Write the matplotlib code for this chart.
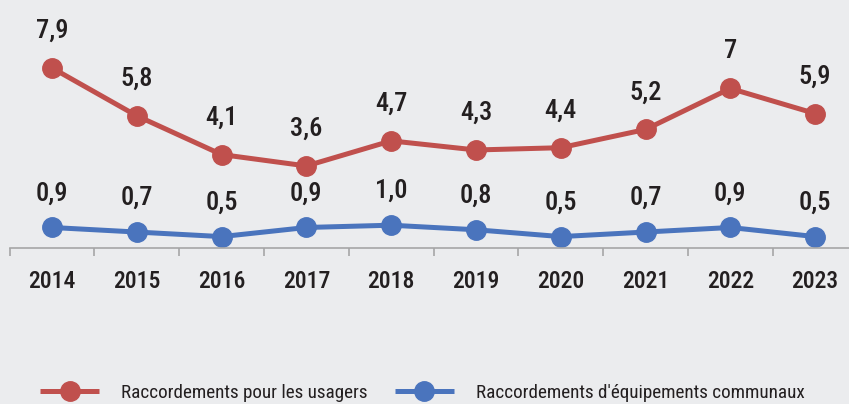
import matplotlib
matplotlib.use('Agg')
import matplotlib.pyplot as plt
from matplotlib import font_manager

years = ['2014', '2015', '2016', '2017', '2018', '2019', '2020', '2021', '2022', '2023']
usagers = [7.9, 5.8, 4.1, 3.6, 4.7, 4.3, 4.4, 5.2, 7.0, 5.9]
usagers_labels = ['7,9', '5,8', '4,1', '3,6', '4,7', '4,3', '4,4', '5,2', '7', '5,9']
communaux = [0.9, 0.7, 0.5, 0.9, 1.0, 0.8, 0.5, 0.7, 0.9, 0.5]
communaux_labels = ['0,9', '0,7', '0,5', '0,9', '1,0', '0,8', '0,5', '0,7', '0,9', '0,5']

names = {f.name for f in font_manager.fontManager.ttflist}
narrow = next((n for n in ['Liberation Sans Narrow', 'Roboto Condensed', 'Roboto', 'Lato']
               if n in names), 'DejaVu Sans')
plt.rcParams['font.family'] = [narrow, 'DejaVu Sans']

bg = '#ebecee'
red = '#c0504d'
blue = '#4a74bd'
text_col = '#231f20'

fig = plt.figure(figsize=(8.49, 4.04), dpi=100, facecolor=bg)
ax = fig.add_axes([0, 1 - 248 / 404, 1, 248 / 404])
ax.set_facecolor(bg)

x = list(range(len(years)))
l1, = ax.plot(x, usagers, color=red, lw=3.6, marker='o', ms=14, label='Raccordements pour les usagers',
              solid_capstyle='butt', clip_on=False)
l2, = ax.plot(x, communaux, color=blue, lw=3.6, marker='o', ms=14, label="Raccordements d'équipements communaux",
              solid_capstyle='butt', clip_on=False)

for xi, v, s in zip(x, usagers, usagers_labels):
    ax.annotate(s, (xi, v), xytext=(0, 18), textcoords='offset points', ha='center', va='bottom',
                fontsize=19, fontweight='medium', color=text_col)
for xi, v, s in zip(x, communaux, communaux_labels):
    ax.annotate(s, (xi, v), xytext=(0, 16), textcoords='offset points', ha='center', va='bottom',
                fontsize=19, fontweight='medium', color=text_col)

ax.set_xlim(-0.613, 9.40)
ax.set_ylim(0, 10.88)
ax.set_yticks([])
for side in ['top', 'right', 'left']:
    ax.spines[side].set_visible(False)
ax.spines['bottom'].set_color('#a6a6a6')
ax.spines['bottom'].set_linewidth(1.2)
ax.spines['bottom'].set_bounds(-0.5, 9.40)

ax.set_xticks(x)
ax.set_xticklabels(years, fontsize=17, fontweight='medium', color=text_col)
ax.tick_params(axis='x', which='major', length=0, pad=16)
ax.set_xticks([i + 0.5 for i in range(-1, 9)], minor=True)
ax.tick_params(axis='x', which='minor', length=6, width=1.2, color='#a6a6a6')

fig.legend(handles=[l1, l2], loc='center left', bbox_to_anchor=(40 / 849, 1 - 393 / 404),
           frameon=False, ncol=2, fontsize=13.8, handlelength=3.1, handletextpad=1.15,
           columnspacing=1.4, borderpad=0, borderaxespad=0, labelcolor=text_col)

fig.savefig('out.png', dpi=100, facecolor=bg)
